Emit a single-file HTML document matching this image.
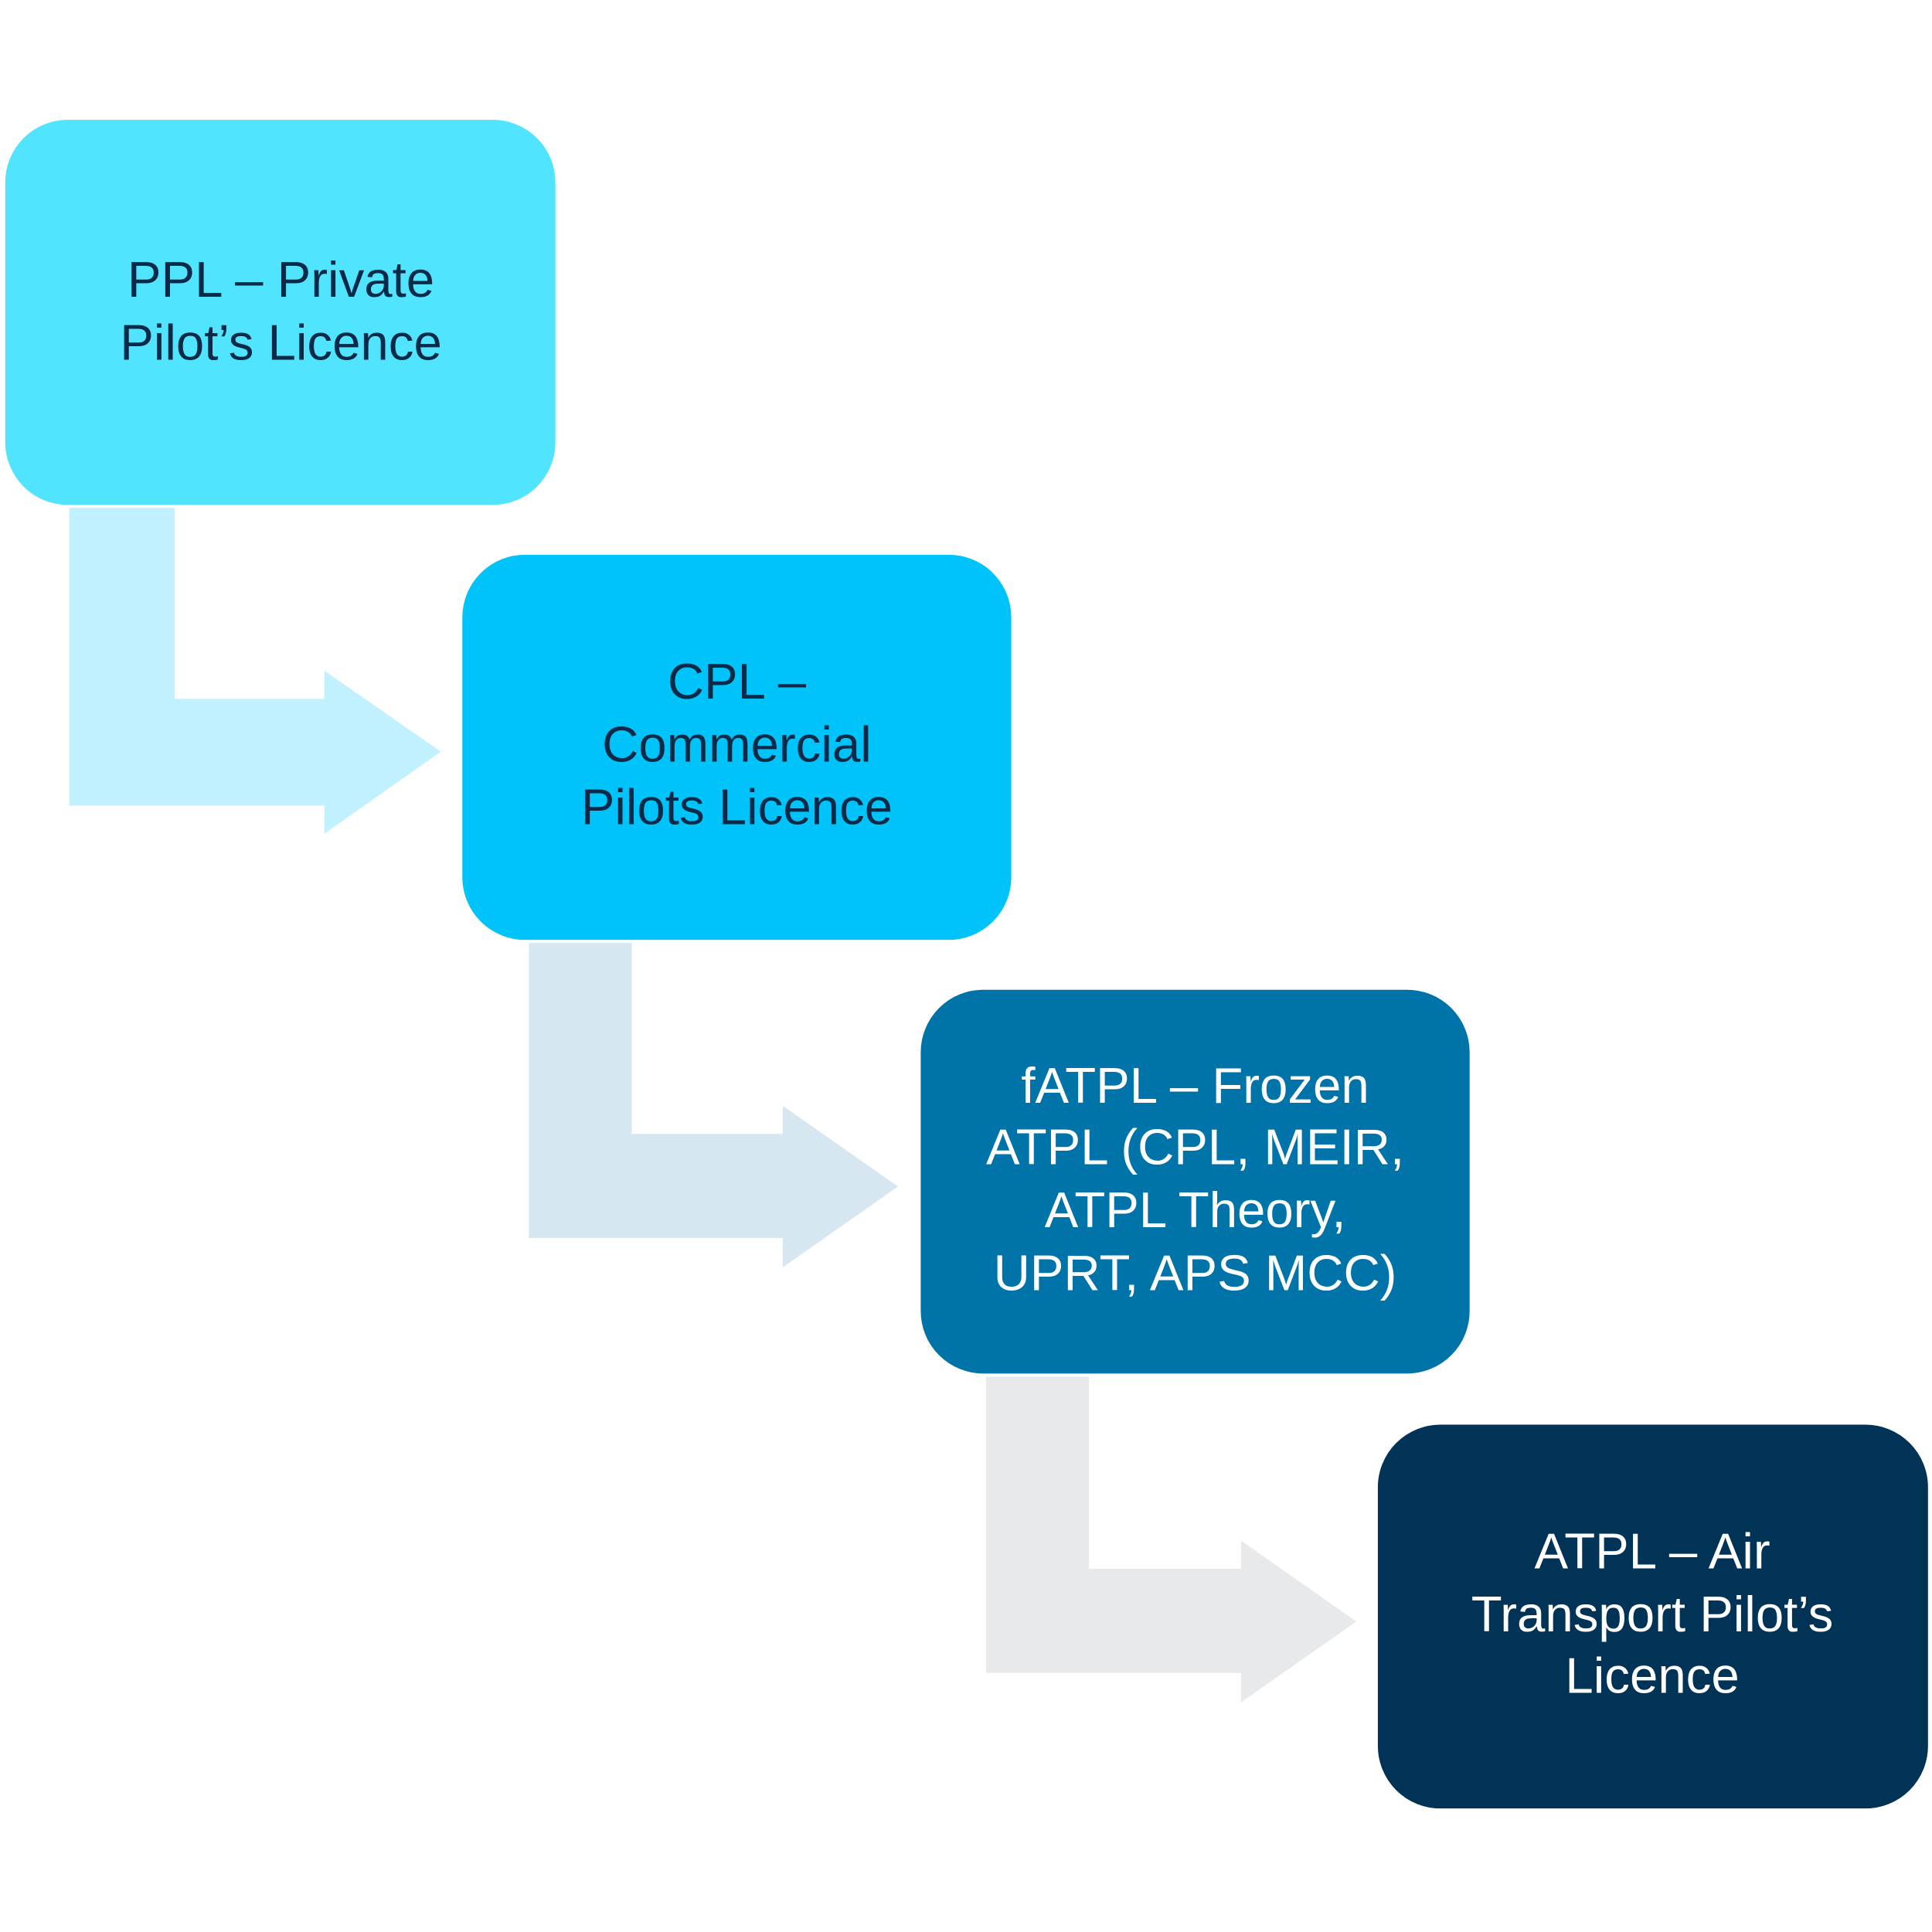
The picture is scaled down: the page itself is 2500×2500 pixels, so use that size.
<!DOCTYPE html>
<html><head><meta charset="utf-8"><style>html,body{margin:0;padding:0;background:#fff}svg{display:block}</style></head>
<body>
<svg width="2500" height="2500" viewBox="0 0 1568 1568" xmlns="http://www.w3.org/2000/svg" font-family="Liberation Sans, sans-serif" font-size="41" text-anchor="middle">
<g stroke="#fff" stroke-width="2.5">
<path d="M55,410 H143 V566 H262 V542 L360,610 L262,679 V655 H55 Z" fill="#C1F0FE"/>
<path d="M428,763 H514 V919 H634 V895 L731,963 L634,1031 V1006 H428 Z" fill="#D6E7F2"/>
<path d="M799,1116 H885 V1272 H1006 V1248 L1103,1316 L1006,1384 V1359 H799 Z" fill="#E7E9EB"/>
<rect x="3" y="96" width="449" height="315" rx="52" fill="#50E4FF"/>
<rect x="374" y="449" width="448" height="315" rx="52" fill="#00C3F9"/>
<rect x="746" y="802" width="448" height="314" rx="52" fill="#0074A8"/>
<rect x="1117" y="1155" width="449" height="314" rx="52" fill="#003355"/>
</g>
<g fill="#0B2A48">
<text x="228" y="241">PPL – Private</text>
<text x="228" y="292">Pilot’s Licence</text>
<text x="598" y="567">CPL –</text>
<text x="598" y="618">Commercial</text>
<text x="598" y="669">Pilots Licence</text>
</g>
<g fill="#fff">
<text x="970" y="895">fATPL – Frozen</text>
<text x="970" y="945">ATPL (CPL, MEIR,</text>
<text x="970" y="996">ATPL Theory,</text>
<text x="970" y="1047">UPRT, APS MCC)</text>
<text x="1341" y="1273">ATPL – Air</text>
<text x="1341" y="1324">Transport Pilot’s</text>
<text x="1341" y="1374">Licence</text>
</g>
</svg>
</body></html>
